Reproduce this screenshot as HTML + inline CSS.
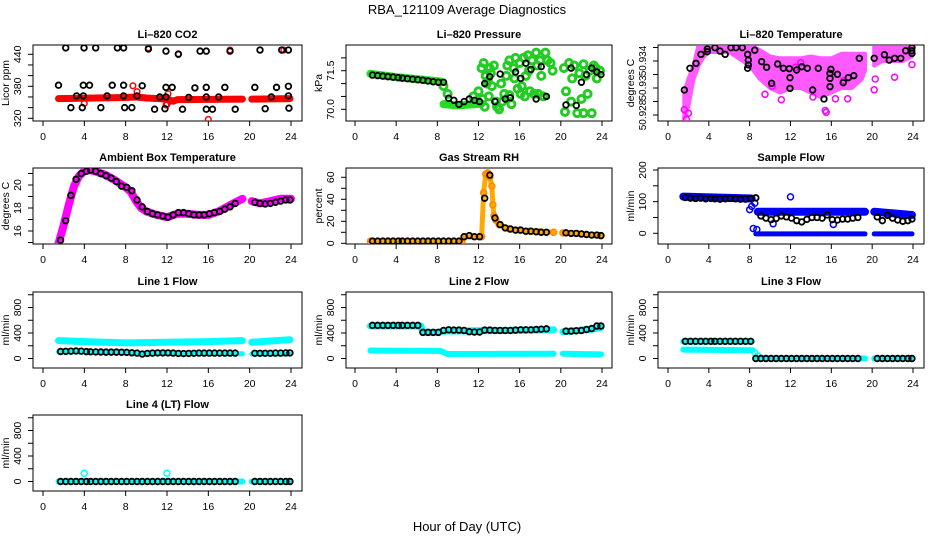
<!DOCTYPE html>
<html><head><meta charset="utf-8"><style>
html,body{margin:0;padding:0;background:#fff;}
svg{display:block;font-family:"Liberation Sans",Arial,sans-serif;}
</style></head><body>
<svg id="chart" xmlns="http://www.w3.org/2000/svg" width="936" height="540" viewBox="0 0 936 540">
<rect x="0" y="0" width="936" height="540" fill="#fff"/>
<text x="467" y="14" font-size="13" text-anchor="middle">RBA_121109  Average Diagnostics</text>
<text x="467" y="531" font-size="13" text-anchor="middle">Hour of Day (UTC)</text>
</svg>
<script>
// ---------- data ----------
const sampleHours=[1.7,2.2,2.7,3.2,3.7,4.2,4.6,5.1,5.6,6.1,6.6,7.1,7.6,8.1,8.6,9.1,9.6,10.1,10.6,11.1,11.6,12.1,12.6,13.1,13.6,14.1,14.6,15.1,15.6,16.1,16.6,17.1,17.6,18.1,18.6,20.5,21.0,21.5,22.0,22.5,23.0,23.5,23.9];
const xTicks=[0,4,8,12,16,20,24];

// CO2
const co2BlackHours=[2.2,3.97,5.1,7.2,7.8,10.2,11.9,13.1,15.2,15.8,18.1,21.0,23.1,23.75,1.5,3.9,4.5,6.7,7.8,9.6,11.9,12.5,14.7,15.8,17.6,20.5,22.6,23.75,3.25,3.9,6.2,7.8,9.1,11.3,11.9,14.1,15.8,17.0,22.1,23.75,2.7,3.8,5.6,7.9,8.6,10.8,11.8,13.5,15.8,16.4,18.6,21.5,23.8];
const co2BlackValues=[452,452,452,452,452,450,446,440,446,446,446,448,448,448,382,382,382,382,382,381,378,378,377,378,378,378,378,380,362,362,362,362,362,360,360,359,360,360,360,362,340,340,340,340,340,337,338,337,337,337,337,338,339];
const co2BandHours=[1.5,8,9,10,11,12,12.6,13,19.3,null,20.2,23.9];
const co2BandValues=[357,359,360,358,357,356,352,355,356,null,356,357];
const co2RedHours=[8.7,9.1,4.0,12.0,12.1,16.0,10.2,12.5,13.1,21.0,23.3,18.1,15.2,20.5,22.6,17.6,14.7,11.9,12.3];
const co2RedValues=[381,370,348,346,366,318,452,378,441,448,448,448,446,378,378,378,377,345,352];

// Pressure
const presBlackValues=[71.33,71.31,71.29,71.27,71.25,71.23,71.21,71.19,71.17,71.15,71.13,71.10,71.07,71.05,71.05,70.43,70.35,70.19,70.3,70.4,70.35,70.3,71.0,71.27,70.3,71.37,70.4,70.45,71.45,71.2,71.79,71.55,70.4,71.66,70.5,70.17,71.6,70.15,71.05,71.35,71.6,71.45,71.35];
const presBandHours=[1.5,4,8.3,null,8.6,10,12.3];
const presBandValues=[71.38,71.25,71.08,null,70.2,70.15,70.22];
const presGreenHours=[12.3,12.5,12.7,12.9,13.1,13.3,13.5,13.7,14.0,14.2,14.5,14.7,15.0,15.2,15.4,15.6,15.8,16.0,16.2,16.4,16.6,16.8,17.0,17.2,17.4,17.6,17.8,18.0,18.3,18.5,18.7,19.0,12.6,13.0,13.8,14.3,16.1,16.5,12.4,15.0,20.3,20.5,20.4,20.8,21.0,21.3,21.6,21.8,22.0,22.2,22.4,22.6,22.8,23.0,23.2,23.5,23.8,22.2,12.0,11.5,8.6,9.0,13.2,14.8,17.7,19.2,21.1,23.4,12.8,15.5,16.9,18.1];
const presGreenValues=[71.6,71.8,71.3,71.1,71.6,70.9,71.7,70.3,70.0,71.0,70.6,71.3,71.9,70.2,71.6,72.0,70.8,71.8,70.9,72.0,71.3,72.1,70.7,71.9,70.6,72.2,70.6,71.9,70.5,72.2,71.9,71.8,70.1,70.5,70.1,70.3,70.6,70.5,70.4,70.55,71.6,70.7,69.9,71.8,70.3,71.7,69.85,71.4,70.4,71.75,71.3,70.6,71.5,69.85,71.7,71.2,71.5,69.85,70.7,70.5,70.9,70.6,71.4,71.7,71.7,71.5,71.2,71.6,71.0,71.2,71.5,71.3];

// Li-820 temperature
const tempBlackHours=[1.6,2.15,2.74,3.23,3.85,3.85,4.6,5.1,5.6,6.17,6.66,7.28,7.8,7.87,7.87,7.8,8.5,9.17,9.66,10.15,10.74,11.3,11.88,11.95,11.95,12.6,13.1,13.65,14.17,14.72,15.28,15.87,15.87,15.87,15.96,16.6,17.17,17.66,18.2,18.74,20.2,21.2,21.67,22.2,22.8,23.28,23.87,23.9,23.9];
const tempBlackValues=[50.93078,50.93319,50.93374,50.93474,50.93533,50.93504,50.93548,50.9351,50.93474,50.93548,50.93548,50.93548,50.93474,50.9341,50.93356,50.93319,50.9352,50.93393,50.9333,50.93152,50.93367,50.93319,50.93315,50.93215,50.93096,50.933,50.93337,50.93319,50.93078,50.93319,50.92978,50.93263,50.93207,50.93115,50.93307,50.93252,50.93159,50.93215,50.93237,50.9343,50.9343,50.9347,50.9341,50.9343,50.9343,50.93514,50.93514,50.93548,50.93485];
const tempBandHours=[1.6,2,2.5,3,3.5,4,6,8,9,10,11,12,13,14,15,16,17,18,19,19.3];
const tempBandUpper=[50.9305,50.932,50.9335,50.9358,50.9358,50.9358,50.9358,50.9358,50.9352,50.9345,50.9343,50.9343,50.9343,50.9345,50.9343,50.9343,50.9348,50.9348,50.9348,50.9348];
const tempBandLower=[50.9275,50.929,50.932,50.9335,50.9345,50.935,50.935,50.9335,50.932,50.931,50.9305,50.931,50.931,50.9305,50.930,50.9305,50.931,50.931,50.932,50.933];
const tempBand2Hours=[20.2,21,22,23,23.9];
const tempBand2Upper=[50.9358,50.9358,50.9358,50.9358,50.9358];
const tempBand2Lower=[50.9335,50.934,50.934,50.934,50.9345];
const tempMagHours=[1.6,1.8,2.0,15.4,15.5,20.2,20.3,11.1,9.5,10.2,14.2,16.4,17.6,22.2,23.9,12.5,13,17.2];
const tempMagValues=[50.9286,50.9275,50.9282,50.9285,50.9283,50.9308,50.932,50.9297,50.9303,50.9312,50.93,50.9298,50.9298,50.9322,50.9336,50.9333,50.9338,50.9318];

// Ambient box temperature
const ambBlackValues=[15.2,16.9,19.1,20.5,21.0,21.2,21.3,21.2,21.0,20.8,20.6,20.3,19.9,19.8,19.5,18.7,18.1,17.7,17.5,17.4,17.3,17.2,17.4,17.6,17.6,17.5,17.4,17.4,17.4,17.5,17.6,17.7,17.9,18.1,18.4,18.5,18.4,18.35,18.4,18.5,18.6,18.7,18.7];
const ambBandHours=[1.5,2,2.5,3,3.5,4,4.5,5,6,7,8,8.5,9,9.5,10,11,12,13,14,15,16,17,18,19.3,null,20.2,21,22,23,24];
const ambBandValues=[14.9,16.5,18.3,19.9,20.8,21.2,21.3,21.2,20.9,20.4,19.8,19.4,18.6,18.0,17.7,17.4,17.2,17.5,17.5,17.4,17.4,17.7,18.2,18.8,null,18.6,18.4,18.6,18.8,18.8];

// Gas stream RH
const rhBlackValues=[2,2,2,2,2,2,2,2,2,2,2,2,2,2,2,2,2,2,6,7,6,6,41,62,23,17,14,13,12,12,11,11,10.5,10,10,9.5,9,9,8.5,8,7.5,7.5,7];
const rhBandHours=[1.5,10.4,10.6,12.3,12.5,12.7,12.9,13.1,13.3,13.4,13.5,13.7,14,15,16,17,18,19.3,null,20.2,22,23.9];
const rhBandValues=[2,2,6,6,46,63,64,60,52,35,25,21,17,13,12,11,10.5,10,null,9.5,8.5,7];

// Sample flow
const sfBlackValues=[113,111,110,111,109,110,109,108,109,110,109,108,108,110,112,55,48,43,47,55,52,48,40,36,44,50,50,48,58,43,42,45,45,48,50,52,40,57,48,42,38,40,45];
const sfUpperHours=[1.5,8.2,null,8.8,19.3,null,20.2,23.9];
const sfUpperValues=[116,110,null,68,68,null,68,58];
const sfLowerHours=[8.6,19.3,null,20.2,23.9];
const sfLowerValues=[-2,-2,null,-2,-2];
const sfOutHours=[8.0,8.2,8.35,8.7,12.0,16.2,10.3,8.5];
const sfOutValues=[75,85,15,12,115,28,30,95];

// Line flows
const l1BlackValues=[110,112,115,118,115,108,105,103,102,100,100,100,98,96,90,85,70,80,85,88,88,88,85,80,78,80,82,85,85,85,85,85,85,85,85,82,82,82,82,85,85,88,88];
const l1UpperHours=[1.5,4,8,12,16,19.3,null,20.2,22,23.9];
const l1UpperValues=[280,265,245,255,265,280,null,255,275,295];
const l1LowerHours=[1.5,8,9,19.3,null,20.2,23.9];
const l1LowerValues=[105,100,80,75,null,70,70];

const l2BlackValues=[520,520,520,520,520,520,520,520,520,520,410,410,410,410,440,450,445,445,440,420,415,415,445,445,440,440,440,440,445,450,450,450,455,460,465,430,430,435,440,455,470,510,510];
const l2UpperHours=[1.5,6.4,6.6,8.2,8.5,19.3,null,20.2,23,23.9];
const l2UpperValues=[510,510,410,410,430,450,null,420,460,490];
const l2LowerHours=[1.5,8.3,9,19.3,null,20.2,23.9];
const l2LowerValues=[125,120,70,75,null,75,65];

const l3BlackValues=[270,270,270,270,270,270,270,270,270,270,270,270,270,270,0,0,0,0,0,0,0,0,0,0,0,0,0,0,0,0,0,0,0,0,0,0,0,0,0,0,0,0,0];
const l3UpperHours=[1.5,8.2,null,8.6,19.3,null,20.2,23.9];
const l3UpperValues=[265,265,null,0,0,null,0,0];
const l3LowerHours=[1.5,8.3];
const l3LowerValues=[140,130];
const l3OutHours=[8.5,8.8];
const l3OutValues=[90,40];

const l4BlackValues=[0,0,0,0,0,0,0,0,0,0,0,0,0,0,0,0,0,0,0,0,0,0,0,0,0,0,0,0,0,0,0,0,0,0,0,0,0,0,0,0,0,0,0];
const l4BandHours=[1.5,19.3,null,20.2,23.9];
const l4BandValues=[0,0,null,0,0];
const l4OutHours=[4.0,12.0];
const l4OutValues=[130,130];

const flowTicks=[0,200,400,600,800,1000];
const flowLabels=[0,400,800];

// ---------- layout ----------
const NS="http://www.w3.org/2000/svg";
const svg=document.getElementById('chart');
const COLS=[{l:33,r:302,x0:43,x24:291},{l:346,r:612,x0:355,x24:602},{l:658,r:924,x0:668,x24:913}];
const ROWS=[45,168,292,415];
const PH=76;

function el(tag,parent){const e=document.createElementNS(NS,tag);parent.appendChild(e);return e;}

function makePanel(name,col,row,title,ylab,v1,p1,v2,p2,ticks,labels,labelText,labelSize){
  const c=COLS[col],top=ROWS[row],bot=top+PH;
  const g=el('g',svg);
  
  
  const xs=h=>c.x0+(c.x24-c.x0)*h/24;
  const ys=v=>top+p1+(v-v1)*(p2-p1)/(v2-v1);
  const cp=el('clipPath',g);cp.setAttribute('id','clip-'+name);
  const cr=el('rect',cp);cr.setAttribute('x',c.l);cr.setAttribute('y',top);cr.setAttribute('width',c.r-c.l);cr.setAttribute('height',PH);
  const t=el('text',g);
  
  
  t.setAttribute('x',(c.l+c.r)/2);t.setAttribute('y',top-7);t.setAttribute('font-size','11');t.setAttribute('font-weight','bold');t.setAttribute('text-anchor','middle');t.textContent=title;
  const box=el('rect',g);
  
  
  box.setAttribute('x',c.l);box.setAttribute('y',top);box.setAttribute('width',c.r-c.l);box.setAttribute('height',PH);box.setAttribute('fill','none');box.setAttribute('stroke','#000');box.setAttribute('stroke-width','1');
  xTicks.forEach(h=>{
    const x=xs(h);
    const tk=el('line',g);
    
    
    tk.setAttribute('x1',x);tk.setAttribute('x2',x);tk.setAttribute('y1',bot);tk.setAttribute('y2',bot+5);tk.setAttribute('stroke','#000');
    const tl=el('text',g);
    
    
    tl.setAttribute('x',x);tl.setAttribute('y',bot+19);tl.setAttribute('font-size','10.5');tl.setAttribute('text-anchor','middle');tl.textContent=h;
  });
  ticks.forEach(v=>{
    const y=ys(v);
    if(y<top-0.5||y>bot+0.5)return;
    const tk=el('line',g);
    
    
    tk.setAttribute('x1',c.l-5);tk.setAttribute('x2',c.l);tk.setAttribute('y1',y);tk.setAttribute('y2',y);tk.setAttribute('stroke','#000');
  });
  labels.forEach((v,i)=>{
    const y=ys(v),x=c.l-12;
    const tl=el('text',g);
    
    
    tl.setAttribute('x',x);tl.setAttribute('y',y);tl.setAttribute('font-size',labelSize||'10.5');tl.setAttribute('text-anchor','middle');
    tl.setAttribute('transform','rotate(-90 '+x+' '+y+')');tl.textContent=labelText?labelText[i]:v;
  });
  const yl=el('text',g);
  
  
  const yx=c.l-24,yy=top+PH/2;
  yl.setAttribute('x',yx);yl.setAttribute('y',yy);yl.setAttribute('font-size','10.5');yl.setAttribute('text-anchor','middle');
  yl.setAttribute('transform','rotate(-90 '+yx+' '+yy+')');yl.textContent=ylab;
  const d=el('g',g);
  
  
  d.setAttribute('clip-path','url(#clip-'+name+')');
  return {g:d,xs,ys};
}

function points(P,hours,vals,color,r,sw,name){
  for(let i=0;i<vals.length;i++){
    if(vals[i]==null)continue;
    const c=el('circle',P.g);
    
    
    c.setAttribute('cx',P.xs(hours[i]));c.setAttribute('cy',P.ys(vals[i]));c.setAttribute('r',r);
    c.setAttribute('fill','none');c.setAttribute('stroke',color);c.setAttribute('stroke-width',sw);
  }
}
function band(P,hours,vals,color,w,name){
  let seg=[];
  const flush=()=>{
    if(seg.length){
      const pl=el('polyline',P.g);
      
      
      pl.setAttribute('points',seg.join(' '));pl.setAttribute('fill','none');pl.setAttribute('stroke',color);
      pl.setAttribute('stroke-width',w);pl.setAttribute('stroke-linecap','round');pl.setAttribute('stroke-linejoin','round');
    }
    seg=[];
  };
  for(let i=0;i<hours.length;i++){
    if(hours[i]==null){flush();continue;}
    seg.push(P.xs(hours[i])+','+P.ys(vals[i]));
  }
  flush();
}
function area(P,hours,up,lo,color,name){
  const pts=[];
  for(let i=0;i<hours.length;i++)pts.push(P.xs(hours[i])+','+P.ys(up[i]));
  for(let i=hours.length-1;i>=0;i--)pts.push(P.xs(hours[i])+','+P.ys(lo[i]));
  const pg=el('polygon',P.g);
  
  
  pg.setAttribute('points',pts.join(' '));pg.setAttribute('fill',color);pg.setAttribute('stroke',color);pg.setAttribute('stroke-width','4');pg.setAttribute('stroke-linejoin','round');
  pg.setAttribute('opacity','0.75');
}

// ---------- panels ----------
let P;
const BR=2.8, BW=1.8;
P=makePanel('co2',0,0,'Li\u2013820 CO2','Licor ppm',440,9.3,320,73.3,[320,340,360,380,400,420,440],[320,380,440]);
band(P,co2BandHours,co2BandValues,'#ff0000',7,'co2-band');
points(P,co2RedHours,co2RedValues,'#ff0000',BR,1.5,'co2-red-point');
points(P,co2BlackHours,co2BlackValues,'#000',BR,BW,'co2-point');

P=makePanel('pressure',1,0,'Li\u2013820 Pressure','kPa',71.5,25.7,70.0,64.3,[70.0,70.5,71.0,71.5,72.0],[70.0,71.5],['70.0','71.5']);
band(P,presBandHours,presBandValues,'#22dd22',8,'pressure-band');
points(P,presGreenHours,presGreenValues,'#22cc22',3.5,3,'pressure-green-point');
points(P,sampleHours,presBlackValues,'#000',BR,BW,'pressure-point');

P=makePanel('li820-temp',2,0,'Li\u2013820 Temperature','degrees C',50.934,16,50.928,70,[50.9265,50.928,50.9295,50.931,50.9325,50.934,50.9355],[50.928,50.931,50.934],['50.928','50.93','50.934'],'10');
area(P,tempBandHours,tempBandUpper,tempBandLower,'#ff22ff','temp-band');
area(P,tempBand2Hours,tempBand2Upper,tempBand2Lower,'#ff22ff','temp-band-2');
points(P,tempMagHours,tempMagValues,'#ff00ff',3,1.5,'temp-magenta-point');
points(P,tempBlackHours,tempBlackValues,'#000',BR,BW,'temp-point');

P=makePanel('ambient',0,1,'Ambient Box Temperature','degrees C',20,17,16,63,[15,16,17,18,19,20,21],[16,18,20]);
band(P,ambBandHours,ambBandValues,'#ff00ff',8,'ambient-band');
points(P,sampleHours,ambBlackValues,'#000',BR,BW,'ambient-point');

P=makePanel('rh',1,1,'Gas Stream RH','percent',60,9.3,0,75.3,[0,10,20,30,40,50,60],[0,20,40,60]);
band(P,rhBandHours,rhBandValues,'#ffaa00',5,'rh-band');
points(P,rhBandHours,rhBandValues,'#ff8800',3,1.5,'rh-orange-point');
points(P,sampleHours,rhBlackValues,'#000',BR,BW,'rh-point');

P=makePanel('sample-flow',2,1,'Sample Flow','ml/min',200,2,0,65.3,[-50,0,50,100,150,200],[0,100,200]);
band(P,sfUpperHours,sfUpperValues,'#0000ff',8,'sample-flow-upper-band');
band(P,sfLowerHours,sfLowerValues,'#0000ff',5,'sample-flow-lower-band');
points(P,sfOutHours,sfOutValues,'#0000ff',3,1.5,'sample-flow-blue-point');
points(P,sampleHours,sfBlackValues,'#000',BR,BW,'sample-flow-point');

P=makePanel('line1',0,2,'Line 1 Flow','ml/min',800,15.5,0,66.5,flowTicks,flowLabels);
band(P,l1UpperHours,l1UpperValues,'#00ffff',7,'line1-upper-band');
band(P,l1LowerHours,l1LowerValues,'#00ffff',5,'line1-lower-band');
points(P,sampleHours,l1BlackValues,'#000',BR,BW,'line1-point');

P=makePanel('line2',1,2,'Line 2 Flow','ml/min',800,15.5,0,66.5,flowTicks,flowLabels);
band(P,l2UpperHours,l2UpperValues,'#00ffff',7,'line2-upper-band');
band(P,l2LowerHours,l2LowerValues,'#00ffff',6,'line2-lower-band');
points(P,sampleHours,l2BlackValues,'#000',BR,BW,'line2-point');

P=makePanel('line3',2,2,'Line 3 Flow','ml/min',800,15.5,0,66.5,flowTicks,flowLabels);
band(P,l3UpperHours,l3UpperValues,'#00ffff',6,'line3-upper-band');
band(P,l3LowerHours,l3LowerValues,'#00ffff',6,'line3-lower-band');
points(P,l3OutHours,l3OutValues,'#00ffff',3,1.5,'line3-cyan-point');
points(P,sampleHours,l3BlackValues,'#000',BR,BW,'line3-point');

P=makePanel('line4',0,3,'Line 4 (LT) Flow','ml/min',800,15.5,0,66.5,flowTicks,flowLabels);
band(P,l4BandHours,l4BandValues,'#00ffff',6,'line4-band');
points(P,l4OutHours,l4OutValues,'#00ffff',3,1.5,'line4-cyan-point');
points(P,sampleHours,l4BlackValues,'#000',BR,BW,'line4-point');
</script>
</body></html>
